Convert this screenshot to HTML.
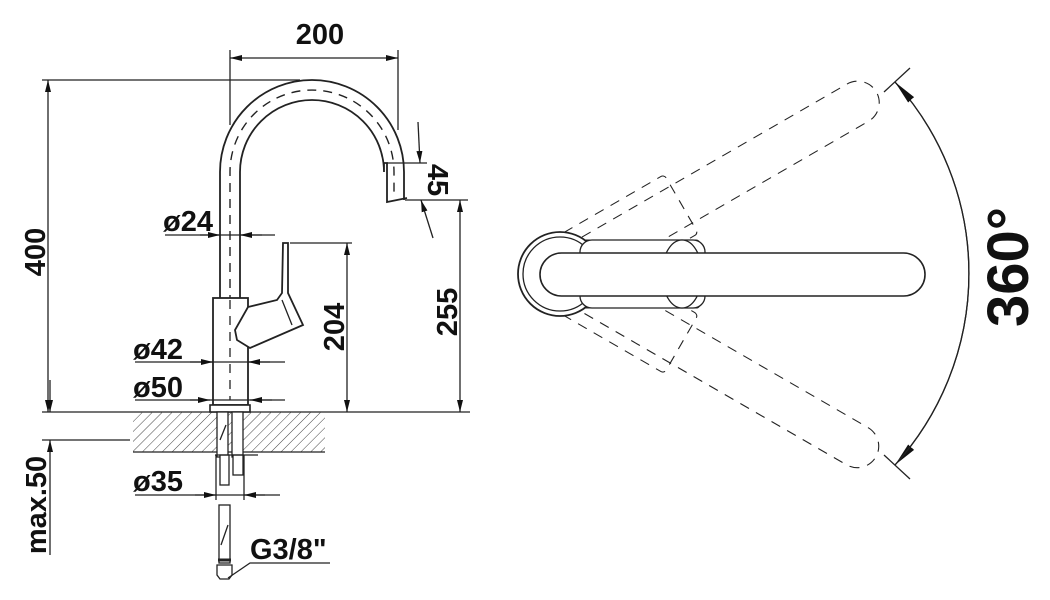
<!DOCTYPE html>
<html><head><meta charset="utf-8"><style>
body{margin:0;background:#fff}
svg{display:block}
text{font-family:"Liberation Sans",Arial,sans-serif;font-weight:bold;fill:#111}
</style></head><body>
<svg width="1050" height="600" viewBox="0 0 1050 600" xmlns="http://www.w3.org/2000/svg">
<defs>
<pattern id="h" width="7" height="7" patternUnits="userSpaceOnUse" patternTransform="rotate(45)">
<line x1="0" y1="0" x2="0" y2="7" stroke="#444" stroke-width="1"/></pattern>
<marker id="a" markerWidth="12" markerHeight="6" refX="12" refY="3" orient="auto" markerUnits="userSpaceOnUse">
<path d="M0,0 L12,3 L0,6 z" fill="#111"/></marker>
<marker id="b" markerWidth="12" markerHeight="6" refX="0" refY="3" orient="auto" markerUnits="userSpaceOnUse">
<path d="M12,0 L0,3 L12,6 z" fill="#111"/></marker>
<marker id="big" markerWidth="24" markerHeight="10" refX="24" refY="5" orient="auto" markerUnits="userSpaceOnUse">
<path d="M0,1 L24,5 L0,9 z" fill="#111"/></marker>
</defs>
<g stroke="#222" stroke-width="1.3" fill="none">
<line x1="230" y1="50" x2="230" y2="125"/><line x1="398" y1="50" x2="398" y2="130"/>
<line x1="230" y1="58" x2="398" y2="58" marker-start="url(#b)" marker-end="url(#a)"/>
<line x1="42" y1="80" x2="300" y2="80"/>
<line x1="48" y1="80" x2="48" y2="412" marker-start="url(#b)" marker-end="url(#a)"/>
<line x1="42" y1="412" x2="470" y2="412"/>
<rect x="133" y="412" width="192" height="40" fill="url(#h)" stroke="none"/>
<line x1="133" y1="452" x2="325" y2="452"/>
<line x1="42" y1="440" x2="130" y2="440"/>
<line x1="50" y1="380" x2="50" y2="412" marker-end="url(#a)"/>
<line x1="50" y1="555" x2="50" y2="440" marker-end="url(#a)"/>
<path d="M220,298 V172 A92,92 0 0 1 404,172 V200" stroke-width="1.8"/>
<path d="M240,298 V172 A72,72 0 0 1 384,172 V163 L387,163 V202 L407,198" stroke-width="1.8"/>
<line x1="387" y1="163" x2="405" y2="163"/>
<path d="M230,400 V172 A82,82 0 0 1 394,172 V198" stroke-dasharray="9,7" stroke-width="1.4"/>
<rect x="213" y="298" width="35" height="107" fill="#fff" stroke-width="1.8"/>
<line x1="230" y1="300" x2="230" y2="400" stroke-dasharray="9,7"/>
<path d="M283,243 L288,243 L288,293 L303,325 L250,348 L237,340 L235,330 L248,307 L277,300 L282,293 Z" fill="#fff" stroke-width="1.8"/>
<line x1="282" y1="300" x2="292" y2="325"/>
<rect x="210" y="405" width="40" height="7" fill="#fff" stroke-width="1.6"/>
<rect x="217" y="412" width="11" height="45" fill="#fff"/>
<rect x="232" y="412" width="11" height="45" fill="#fff"/>
<line x1="220" y1="440" x2="226" y2="425"/>
<rect x="233" y="455" width="10" height="20" fill="#fff"/>
<rect x="220" y="455" width="9" height="30" fill="#fff"/>
<line x1="215" y1="455" x2="258" y2="455"/>
<rect x="219" y="505" width="11" height="58" fill="#fff"/>
<line x1="221" y1="545" x2="228" y2="525"/>
<path d="M217,565 h15 v10 l-3,4 h-9 l-3,-4 z" fill="#fff"/>
<line x1="218" y1="560" x2="231" y2="560" stroke-width="3"/>
<path d="M228,578 L250,563 H330"/>
<line x1="290" y1="243" x2="352" y2="243"/>
<line x1="347" y1="243" x2="347" y2="412" marker-start="url(#b)" marker-end="url(#a)"/>
<line x1="405" y1="200" x2="468" y2="200"/>
<line x1="460" y1="200" x2="460" y2="412" marker-start="url(#b)" marker-end="url(#a)"/>
<line x1="405" y1="163" x2="427" y2="163"/>
<line x1="418" y1="122" x2="420" y2="163" marker-end="url(#a)"/>
<line x1="433" y1="238" x2="421" y2="200" marker-end="url(#a)"/>
<line x1="165" y1="235" x2="275" y2="235"/>
<line x1="200" y1="235" x2="220" y2="235" marker-end="url(#a)"/><line x1="262" y1="235" x2="240" y2="235" marker-end="url(#a)"/>
<line x1="135" y1="362" x2="285" y2="362"/>
<line x1="190" y1="362" x2="213" y2="362" marker-end="url(#a)"/><line x1="270" y1="362" x2="248" y2="362" marker-end="url(#a)"/>
<line x1="135" y1="400" x2="285" y2="400"/>
<line x1="190" y1="400" x2="210" y2="400" marker-end="url(#a)"/><line x1="272" y1="400" x2="250" y2="400" marker-end="url(#a)"/>
<line x1="135" y1="495" x2="280" y2="495"/>
<line x1="195" y1="495" x2="216" y2="495" marker-end="url(#a)"/><line x1="265" y1="495" x2="244" y2="495" marker-end="url(#a)"/>
<line x1="216" y1="455" x2="216" y2="500"/><line x1="244" y1="455" x2="244" y2="500"/>

<g id="rot" stroke-dasharray="10,8" stroke-width="1.1">
<rect x="540" y="253" width="385" height="43" rx="21.5"/>
<rect x="580" y="240" width="120" height="68" rx="4"/>
</g>
<use href="#rot" transform="rotate(-30 560 274)"/>
<use href="#rot" transform="rotate(30 560 274)"/>
<g fill="#fff">
<circle cx="560" cy="274" r="42" stroke-width="1.8"/>
<circle cx="560" cy="274" r="37"/>
<rect x="580" y="240" width="125" height="68" rx="12"/>
<ellipse cx="682" cy="274" rx="20" ry="34"/>
<rect x="540" y="253" width="385" height="43" rx="21.5" stroke-width="1.6"/>
</g>
<path d="M895,82 A285,285 0 0 1 895,465" marker-end="url(#big)"/>
<path d="M895,465 A285,285 0 0 0 895,82" marker-end="url(#big)"/>
<line x1="884" y1="92" x2="910" y2="68"/><line x1="884" y1="455" x2="910" y2="479"/>
</g>
<g font-size="29">
<text x="320" y="44" text-anchor="middle">200</text>
<text transform="translate(45,252) rotate(-90)" text-anchor="middle">400</text>
<text transform="translate(344,327) rotate(-90)" text-anchor="middle">204</text>
<text transform="translate(457,312) rotate(-90)" text-anchor="middle">255</text>
<text transform="translate(428,180) rotate(90)" text-anchor="middle">45</text>
<text x="163" y="231">ø24</text>
<text x="133" y="359">ø42</text>
<text x="133" y="397">ø50</text>
<text x="133" y="491">ø35</text>
<text x="250" y="559">G3/8"</text>
<text transform="translate(46,505) rotate(-90)" text-anchor="middle">max.50</text>
<text transform="translate(1028,267) rotate(-90)" text-anchor="middle" font-size="58">360°</text>
</g>
</svg>
</body></html>
